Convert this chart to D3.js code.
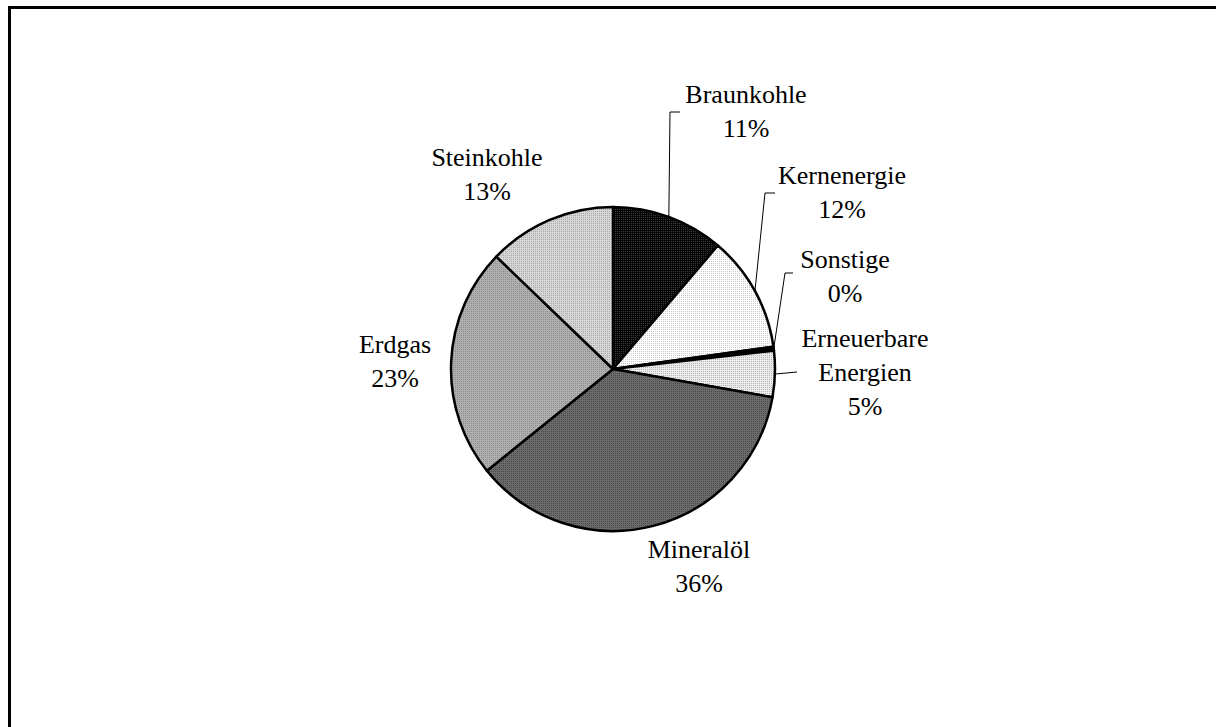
<!DOCTYPE html>
<html>
<head>
<meta charset="utf-8">
<script src="https://cdn.jsdelivr.net/npm/d3@7"></script>
<style>
  html, body { margin: 0; padding: 0; background: #fff; }
  svg { display: block; }
  text { font-family: "Liberation Serif", "Times New Roman", serif; font-size: 26px; fill: #000; }
</style>
</head>
<body>
<svg id="chart" width="1216" height="727"></svg>
<script>
// Energy sources, shares in percent (clockwise from 12 o'clock)
const categories = ["Braunkohle", "Kernenergie", "Sonstige", "Erneuerbare Energien", "Mineralöl", "Erdgas", "Steinkohle"];
const shares = [11.2, 11.6, 0.4, 4.6, 36.4, 23.0, 12.8];

// Hatched fills: base tone plus a fine dot raster
const fillBase = ["#050505", "#ffffff", "#000000", "#ececec", "#6c6c6c", "#b0b0b0", "#d6d6d6"];
const fillDots = ["#3c3c3c", "#c8c8c8", "#000000", "#b4b4b4", "#484848", "#8c8c8c", "#a8a8a8"];

// Label block placement relative to the pie centre (centre x, first baseline y)
// and optional leader: elbow point relative to centre, tick length
const labelLayout = [
  { x: 133, y: -266, elbow: [57, -257], tick: 10 },
  { x: 229, y: -185, elbow: [152, -176], tick: 10 },
  { x: 232, y: -101, elbow: [172, -96], tick: 8 },
  { x: 252, y: -22, elbow: [184, 3], tick: 0 },
  { x: 86, y: 189, elbow: null },
  { x: -218, y: -16, elbow: null },
  { x: -126, y: -203, elbow: null }
];

const svg = d3.select("#chart");
const cx = 613, cy = 369, R = 162;

// Outer frame (left and top edges visible)
svg.append("path")
  .attr("d", "M9.5,727 V7.5 H1216")
  .attr("fill", "none")
  .attr("stroke", "#000")
  .attr("stroke-width", 3);

// Dot-raster patterns
const defs = svg.append("defs");
categories.forEach((c, i) => {
  const p = defs.append("pattern")
    .attr("id", "pat" + i)
    .attr("patternUnits", "userSpaceOnUse")
    .attr("width", 2).attr("height", 2);
  p.append("rect").attr("width", 2).attr("height", 2).attr("fill", fillBase[i]);
  p.append("rect").attr("width", 1).attr("height", 1).attr("fill", fillDots[i]);
});

const pie = d3.pie().sort(null).value(d => d)(shares);
const arc = d3.arc().innerRadius(0).outerRadius(R);

const g = svg.append("g").attr("transform", `translate(${cx},${cy})`);

g.selectAll("path.slice")
  .data(pie)
  .join("path")
  .attr("class", "slice")
  .attr("d", arc)
  .attr("fill", (d, i) => `url(#pat${i})`)
  .attr("stroke", "#000")
  .attr("stroke-width", 2.5)
  .attr("stroke-linejoin", "round");

// Leader lines from the rim to the label
pie.forEach((d, i) => {
  const L = labelLayout[i];
  if (!L.elbow) return;
  const a = (d.startAngle + d.endAngle) / 2;
  const sx = R * Math.sin(a), sy = -R * Math.cos(a);
  const pts = [[sx, sy], L.elbow];
  if (L.tick) pts.push([L.elbow[0] + L.tick, L.elbow[1]]);
  g.append("path")
    .attr("d", d3.line()(pts))
    .attr("fill", "none")
    .attr("stroke", "#000")
    .attr("stroke-width", 1);
});

// Labels: name (wrapped) and rounded percent
const fmt = v => Math.round(v) + "%";
pie.forEach((d, i) => {
  const L = labelLayout[i];
  const lines = categories[i] === "Erneuerbare Energien" ? ["Erneuerbare", "Energien"] : [categories[i]];
  lines.push(fmt(shares[i]));
  const t = g.append("text").attr("text-anchor", "middle");
  lines.forEach((s, k) => {
    t.append("tspan").attr("x", L.x).attr("y", L.y + k * 34).text(s);
  });
});
</script>
</body>
</html>
